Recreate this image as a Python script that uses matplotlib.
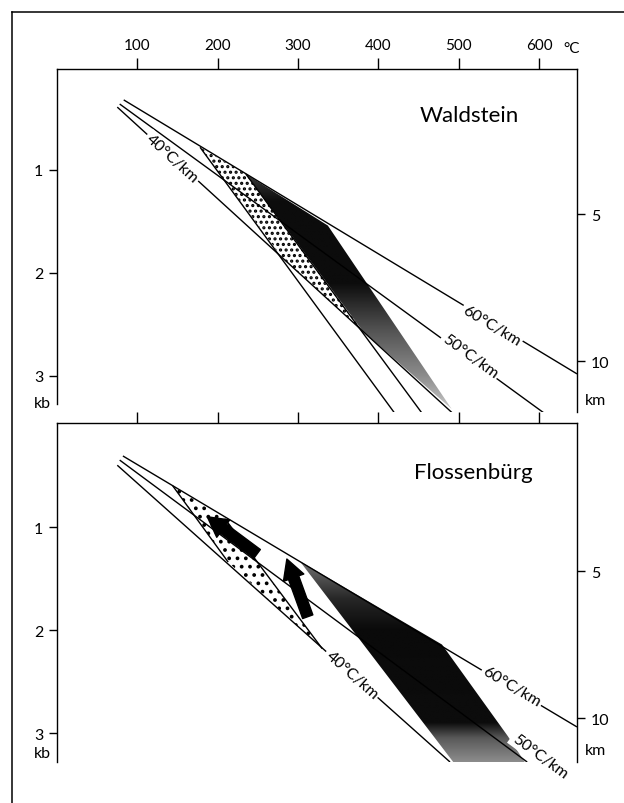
import numpy as np
import matplotlib
matplotlib.use("Agg")
import matplotlib.pyplot as plt
import matplotlib.transforms as mtransforms
from matplotlib.patches import Polygon
from matplotlib.lines import Line2D

plt.rcParams['font.family'] = ['Lato', 'DejaVu Sans']
plt.rcParams['hatch.linewidth'] = 1.5

temp_ticks = [100, 200, 300, 400, 500, 600]
kb_ticks = [1, 2, 3]
km_ticks = [5, 10]
KM_PER_KB = 3.5

# ---- Waldstein (top panel): line end points, T in degC, P in kb
w_g60_T = [83, 647]
w_g60_P = [0.32, 2.98]
w_g50_T = [78, 606]
w_g50_P = [0.36, 3.36]
w_g40_T = [75, 492]
w_g40_P = [0.39, 3.36]
w_iso1_T = [178, 420]
w_iso1_P = [0.78, 3.36]
w_iso2_T = [235, 454]
w_iso2_P = [1.04, 3.36]
# stippled field and dark field corners
w_dot_T = [178, 235, 381, 281]
w_dot_P = [0.78, 1.04, 2.57, 1.86]
w_dark_T = [235, 337, 491, 381]
w_dark_P = [1.04, 1.54, 3.32, 2.57]
# label anchor (T, P)
w_lab = {'60': (541, 2.51), '50': (514, 2.81), '40': (143, 0.89)}

# ---- Flossenbuerg (bottom panel)
f_g60_T = [82, 647]
f_g60_P = [0.31, 2.94]
f_g50_T = [78, 585]
f_g50_P = [0.35, 3.28]
f_g40_T = [75, 489]
f_g40_P = [0.40, 3.28]
f_iso1_T = [144, 213]
f_iso1_P = [0.60, 1.34]
f_iso2_T = [209, 330]
f_iso2_P = [0.92, 2.18]
f_dot_T = [144, 209, 330, 213]
f_dot_P = [0.60, 0.92, 2.18, 1.34]
f_dark_T = [302, 479, 561, 582, 493]
f_dark_P = [1.33, 2.14, 3.03, 3.28, 3.28]
f_lab = {'60': (566, 2.55), '50': (601, 3.22), '40': (367, 2.43)}
# arrows: (tail T, tail P, head T, head P)
f_arrows = [(249, 1.26, 187, 0.90), (312, 1.87, 286, 1.31)]

fig = plt.figure(figsize=(6.24, 8.04), dpi=100)
W, H = 624, 804

# outer frame
fig.add_artist(Line2D([12 / W, 12 / W], [0, 1 - 13 / H], color='k', lw=1.1))
fig.add_artist(Line2D([12 / W, 1], [1 - 13 / H, 1 - 13 / H], color='k', lw=1.1))

ax1 = fig.add_axes([57 / W, 1 - 413 / H, 520 / W, 343 / H])
ax2 = fig.add_axes([57 / W, 1 - 763 / H, 520 / W, 339 / H])
lims = {ax1: (3.35, 0.02), ax2: (3.28, -0.01)}
for ax in (ax1, ax2):
    ax.set_xlim(0, 647)
    ax.set_ylim(*lims[ax])


def angle(ax, T, P):
    p0 = ax.transData.transform((T[0], P[0]))
    p1 = ax.transData.transform((T[1], P[1]))
    return np.degrees(np.arctan2(p1[1] - p0[1], p1[0] - p0[0]))


def shade(ax, T, P, lev_P, lev_g):
    poly = Polygon(list(zip(T, P)), closed=True, fc='none', ec='none')
    ax.add_patch(poly)
    pp = np.linspace(min(P), max(P), 300)
    g = np.interp(pp, lev_P, lev_g)
    img = np.tile(g[:, None], (1, 2))
    im = ax.imshow(img, cmap='gray', vmin=0, vmax=1, aspect='auto',
                   extent=(min(T), max(T), max(P), min(P)),
                   interpolation='bilinear', zorder=2)
    im.set_clip_path(poly)


def dotted(ax, T, P, hatch):
    ax.add_patch(Polygon(list(zip(T, P)), closed=True, facecolor='white',
                         edgecolor='black', hatch=hatch, lw=0, zorder=1))


def glabel(ax, txt, pos, T, P):
    ax.text(pos[0], pos[1], txt, rotation=angle(ax, T, P), rotation_mode='anchor',
            ha='center', va='center', fontsize=11.5, zorder=5,
            bbox=dict(fc='white', ec='none', pad=1.5))


lk = dict(color='k', lw=1.0, zorder=3, solid_capstyle='butt')

# ---------- top panel
dotted(ax1, w_dot_T, w_dot_P, '...')
shade(ax1, w_dark_T, w_dark_P, [1.0, 1.3, 2.1, 2.6, 3.0, 3.35],
      [0.25, 0.05, 0.05, 0.35, 0.55, 0.8])
for T, P in [(w_g60_T, w_g60_P), (w_g50_T, w_g50_P), (w_g40_T, w_g40_P),
             (w_iso1_T, w_iso1_P), (w_iso2_T, w_iso2_P)]:
    ax1.plot(T, P, **lk)
glabel(ax1, '60°C/km', w_lab['60'], w_g60_T, w_g60_P)
glabel(ax1, '50°C/km', w_lab['50'], w_g50_T, w_g50_P)
glabel(ax1, '40°C/km', w_lab['40'], w_g40_T, w_g40_P)
ax1.text(0.792, 0.866, 'Waldstein', transform=ax1.transAxes, ha='center', va='center',
         fontsize=16)

# ---------- bottom panel
dotted(ax2, f_dot_T, f_dot_P, '..')
shade(ax2, f_dark_T, f_dark_P, [1.33, 1.7, 2.0, 2.9, 3.05, 3.28],
      [0.45, 0.15, 0.04, 0.05, 0.35, 0.55])
for T, P in [(f_g60_T, f_g60_P), (f_g50_T, f_g50_P), (f_g40_T, f_g40_P),
             (f_iso1_T, f_iso1_P), (f_iso2_T, f_iso2_P)]:
    ax2.plot(T, P, **lk)
glabel(ax2, '60°C/km', f_lab['60'], f_g60_T, f_g60_P)
glabel(ax2, '50°C/km', f_lab['50'], f_g50_T, f_g50_P)
glabel(ax2, '40°C/km', f_lab['40'], f_g40_T, f_g40_P)
for t0, p0, t1, p1 in f_arrows:
    ax2.annotate('', xy=(t1, p1), xytext=(t0, p0), zorder=6,
                 arrowprops=dict(arrowstyle='simple,head_length=1.1,head_width=1.2,tail_width=0.6',
                                 fc='k', ec='k', mutation_scale=13, shrinkA=0, shrinkB=0))
ax2.text(0.8, 0.855, 'Flossenbürg', transform=ax2.transAxes, ha='center', va='center',
         fontsize=16)

# ---------- axes cosmetics
for ax in (ax1, ax2):
    ax.set_xlim(0, 647)
    ax.set_ylim(*lims[ax])
    ax.spines['bottom'].set_visible(False)
    ax.spines['right'].set_visible(False)
    ax.xaxis.tick_top()
    ax.set_xticks(temp_ticks)
    ax.tick_params(axis='x', direction='out', length=8, width=1.0, labelsize=11, pad=4)
    ax.set_yticks(kb_ticks)
    ax.set_yticklabels([str(k) for k in kb_ticks])
    ax.tick_params(axis='y', direction='out', length=6, width=1.0, labelsize=11.5, pad=4)
    for s in ax.spines.values():
        s.set_linewidth(1.0)
    sec = ax.secondary_yaxis('right', functions=(lambda p: p * KM_PER_KB,
                                                 lambda k: k / KM_PER_KB))
    sec.set_yticks(km_ticks)
    sec.set_yticklabels([str(k) for k in km_ticks])
    sec.tick_params(direction='out', length=6, width=1.0, labelsize=11.5, pad=4)
    sec.spines['right'].set_linewidth(1.0)
    tr = mtransforms.blended_transform_factory(ax.transAxes, ax.transData)
    ylo = lims[ax][0]
    ax.text(-0.012, ylo - 0.09, 'kb', transform=tr, ha='right', va='center', fontsize=11.5)
    ax.text(1.015, ylo - 0.12, 'km', transform=tr, ha='left', va='center', fontsize=11.5)

ax1.set_xticklabels([str(t) for t in temp_ticks])
ax1.text(0.99, 1.062, '°C', transform=ax1.transAxes, ha='center', va='center', fontsize=11)
ax2.set_xticklabels([])
ax1.spines['left'].set_bounds(0.02, 3.27)

fig.savefig('out.png', dpi=100)
